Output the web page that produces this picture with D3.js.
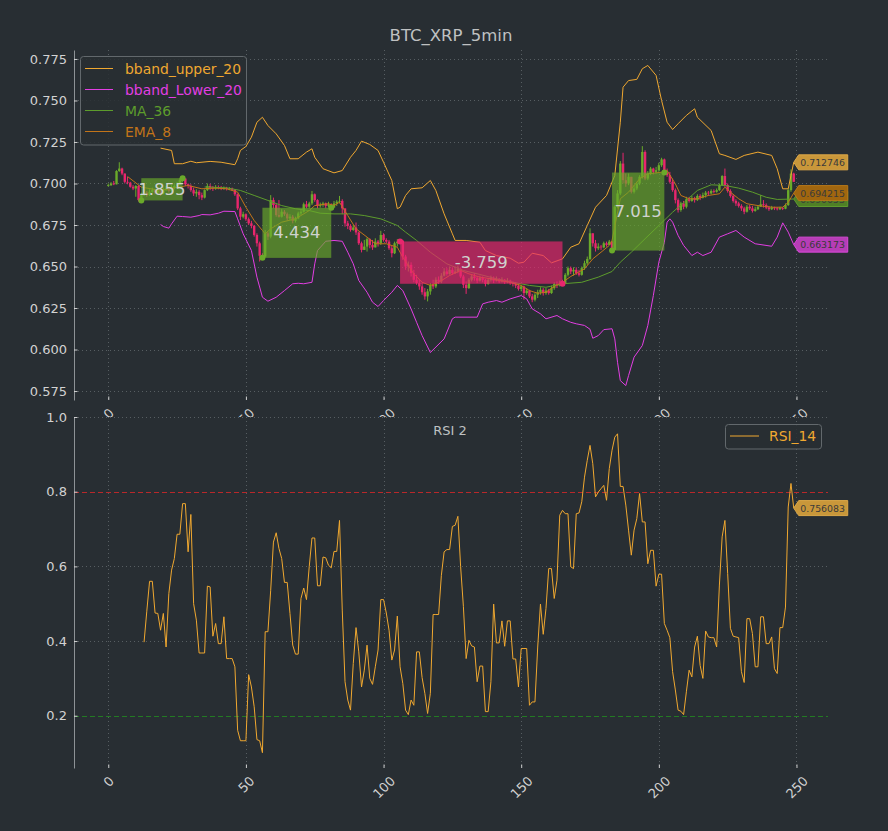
<!DOCTYPE html>
<html><head><meta charset="utf-8">
<script src="https://cdn.jsdelivr.net/npm/d3@7"></script>
<style>body{margin:0;background:#282e33;} svg{display:block;} text{font-family:"DejaVu Sans",sans-serif;}</style>
</head><body><svg id="c" width="888" height="831"></svg>
<script>
// ---------------- DATA ----------------
const title = "BTC_XRP_5min";
const subTitle = "RSI 2";
const xTicks = [0, 50, 100, 150, 200, 250];
const priceTicks = [0.575, 0.600, 0.625, 0.650, 0.675, 0.700, 0.725, 0.750, 0.775];
const rsiTicks = [0.2, 0.4, 0.6, 0.8, 1.0];
const rsiLevels = [0.8, 0.2];
const firstOpen = 0.6985;
const closes = [
0.6990,0.7000,0.6995,0.7075,0.7090,0.7060,0.7010,0.7005,0.6980,0.6970,
0.6985,0.6900,0.6935,0.6945,0.6930,0.6950,0.6960,0.6945,0.6955,0.6940,
0.6960,0.6970,0.6955,0.6975,0.6985,0.6995,0.7020,0.7030,0.6995,0.6985,
0.6960,0.6940,0.6950,0.6930,0.6915,0.6960,0.6985,0.6975,0.6970,0.6978,
0.6975,0.6970,0.6972,0.6968,0.6970,0.6962,0.6935,0.6850,0.6800,0.6815,
0.6785,0.6760,0.6745,0.6690,0.6640,0.6565,0.6560,0.6700,0.6680,0.6900,
0.6870,0.6810,0.6800,0.6830,0.6815,0.6790,0.6800,0.6775,0.6790,0.6820,
0.6830,0.6875,0.6860,0.6880,0.6935,0.6900,0.6865,0.6870,0.6880,0.6865,
0.6875,0.6855,0.6880,0.6890,0.6895,0.6850,0.6760,0.6745,0.6720,0.6735,
0.6705,0.6640,0.6600,0.6620,0.6665,0.6630,0.6615,0.6650,0.6640,0.6690,
0.6660,0.6650,0.6610,0.6580,0.6640,0.6650,0.6655,0.6560,0.6500,0.6510,
0.6460,0.6420,0.6400,0.6380,0.6345,0.6320,0.6350,0.6390,0.6380,0.6420,
0.6410,0.6445,0.6470,0.6455,0.6480,0.6460,0.6470,0.6485,0.6440,0.6390,
0.6370,0.6420,0.6440,0.6430,0.6415,0.6430,0.6420,0.6395,0.6420,0.6430,
0.6415,0.6425,0.6410,0.6420,0.6405,0.6415,0.6400,0.6395,0.6385,0.6365,
0.6380,0.6340,0.6355,0.6320,0.6300,0.6330,0.6345,0.6360,0.6340,0.6355,
0.6340,0.6370,0.6395,0.6385,0.6400,0.6395,0.6450,0.6490,0.6470,0.6480,
0.6460,0.6450,0.6490,0.6520,0.6545,0.6700,0.6640,0.6610,0.6620,0.6615,
0.6640,0.6630,0.6650,0.6600,0.6860,0.6940,0.7120,0.7020,0.7000,0.7040,
0.6950,0.6970,0.7000,0.7040,0.7190,0.7030,0.7060,0.7090,0.7070,0.7080,
0.7110,0.7145,0.7065,0.7050,0.7010,0.6960,0.6900,0.6840,0.6880,0.6860,
0.6905,0.6895,0.6910,0.6900,0.6925,0.6915,0.6930,0.6945,0.6940,0.6955,
0.6950,0.6960,0.6990,0.7045,0.6990,0.6955,0.6925,0.6895,0.6880,0.6865,
0.6850,0.6830,0.6860,0.6850,0.6835,0.6845,0.6860,0.6875,0.6870,0.6855,
0.6845,0.6855,0.6850,0.6845,0.6852,0.6848,0.6870,0.6960,0.7060,0.7010];
const highs = [
0.7000,0.7008,0.7015,0.7080,0.7128,0.7095,0.7060,0.7040,0.7010,0.6990,
0.6990,0.6990,0.6945,0.6960,0.6955,0.6965,0.6975,0.6965,0.6970,0.6960,
0.6975,0.6985,0.6980,0.6990,0.6995,0.7010,0.7030,0.7035,0.7030,0.7000,
0.6995,0.6975,0.6965,0.6960,0.6945,0.6965,0.7000,0.6998,0.6985,0.6990,
0.6988,0.6985,0.6982,0.6980,0.6978,0.6975,0.6965,0.6940,0.6860,0.6830,
0.6820,0.6795,0.6775,0.6750,0.6700,0.6650,0.6580,0.6720,0.6710,0.6930,
0.6915,0.6880,0.6900,0.6845,0.6840,0.6825,0.6815,0.6810,0.6800,0.6830,
0.6845,0.6885,0.6895,0.6890,0.6955,0.6940,0.6905,0.6885,0.6890,0.6885,
0.6890,0.6880,0.6895,0.6900,0.6925,0.6905,0.6830,0.6775,0.6755,0.6750,
0.6765,0.6710,0.6650,0.6660,0.6675,0.6670,0.6660,0.6670,0.6660,0.6715,
0.6700,0.6670,0.6660,0.6625,0.6650,0.6665,0.6660,0.6660,0.6570,0.6530,
0.6525,0.6480,0.6450,0.6420,0.6400,0.6370,0.6365,0.6400,0.6420,0.6435,
0.6440,0.6460,0.6490,0.6490,0.6500,0.6495,0.6500,0.6505,0.6495,0.6450,
0.6410,0.6430,0.6455,0.6460,0.6440,0.6445,0.6440,0.6425,0.6430,0.6445,
0.6440,0.6440,0.6430,0.6435,0.6425,0.6430,0.6420,0.6410,0.6405,0.6395,
0.6390,0.6385,0.6370,0.6360,0.6335,0.6340,0.6360,0.6375,0.6370,0.6370,
0.6365,0.6385,0.6405,0.6410,0.6415,0.6420,0.6460,0.6500,0.6500,0.6495,
0.6495,0.6480,0.6500,0.6535,0.6560,0.6730,0.6700,0.6660,0.6640,0.6630,
0.6650,0.6650,0.6660,0.6655,0.6870,0.6960,0.7135,0.7185,0.7060,0.7060,
0.7040,0.6990,0.7010,0.7050,0.7225,0.7200,0.7075,0.7100,0.7095,0.7100,
0.7125,0.7155,0.7150,0.7090,0.7070,0.7030,0.6970,0.6910,0.6890,0.6895,
0.6920,0.6920,0.6925,0.6920,0.6935,0.6935,0.6945,0.6955,0.6955,0.6965,
0.6965,0.6970,0.7000,0.7050,0.7090,0.7000,0.6965,0.6935,0.6905,0.6890,
0.6875,0.6860,0.6870,0.6870,0.6865,0.6860,0.6870,0.6930,0.6900,0.6880,
0.6865,0.6865,0.6860,0.6858,0.6860,0.6858,0.6880,0.6970,0.7085,0.7065];
const lows = [
0.6982,0.6985,0.6990,0.6995,0.7070,0.7050,0.7000,0.6995,0.6975,0.6960,
0.6920,0.6892,0.6898,0.6925,0.6920,0.6925,0.6945,0.6935,0.6940,0.6925,
0.6935,0.6955,0.6945,0.6950,0.6965,0.6980,0.6990,0.7010,0.6985,0.6970,
0.6950,0.6925,0.6920,0.6905,0.6900,0.6910,0.6955,0.6960,0.6955,0.6962,
0.6965,0.6960,0.6962,0.6958,0.6960,0.6955,0.6925,0.6840,0.6780,0.6790,
0.6775,0.6750,0.6730,0.6680,0.6620,0.6530,0.6540,0.6555,0.6660,0.6670,
0.6850,0.6800,0.6795,0.6795,0.6805,0.6775,0.6780,0.6760,0.6765,0.6785,
0.6810,0.6825,0.6850,0.6850,0.6870,0.6890,0.6850,0.6855,0.6860,0.6850,
0.6858,0.6845,0.6860,0.6865,0.6880,0.6815,0.6740,0.6725,0.6710,0.6715,
0.6690,0.6630,0.6585,0.6605,0.6590,0.6610,0.6600,0.6615,0.6620,0.6630,
0.6650,0.6640,0.6600,0.6555,0.6575,0.6620,0.6640,0.6540,0.6480,0.6470,
0.6440,0.6405,0.6390,0.6360,0.6330,0.6300,0.6290,0.6330,0.6365,0.6370,
0.6395,0.6400,0.6440,0.6445,0.6450,0.6450,0.6455,0.6460,0.6430,0.6370,
0.6335,0.6365,0.6410,0.6415,0.6400,0.6410,0.6405,0.6380,0.6390,0.6410,
0.6400,0.6410,0.6400,0.6405,0.6395,0.6400,0.6390,0.6380,0.6370,0.6355,
0.6350,0.6300,0.6330,0.6310,0.6285,0.6290,0.6310,0.6330,0.6325,0.6330,
0.6330,0.6335,0.6360,0.6370,0.6380,0.6385,0.6395,0.6440,0.6455,0.6445,
0.6450,0.6440,0.6445,0.6480,0.6510,0.6540,0.6620,0.6590,0.6600,0.6600,
0.6610,0.6620,0.6630,0.6590,0.6600,0.6850,0.6930,0.7000,0.6980,0.6990,
0.6940,0.6940,0.6960,0.6990,0.7030,0.7020,0.7020,0.7050,0.7055,0.7060,
0.7070,0.7100,0.7060,0.7040,0.7000,0.6950,0.6880,0.6825,0.6830,0.6845,
0.6850,0.6885,0.6890,0.6885,0.6895,0.6900,0.6910,0.6915,0.6925,0.6935,
0.6940,0.6945,0.6955,0.6985,0.6980,0.6945,0.6915,0.6885,0.6865,0.6855,
0.6835,0.6815,0.6825,0.6840,0.6825,0.6830,0.6840,0.6860,0.6855,0.6845,
0.6835,0.6840,0.6840,0.6838,0.6840,0.6840,0.6845,0.6865,0.6950,0.7020];

// indicator lines: [candle index, value]
const bbandUpper = [[19,0.7213],[23,0.7199],[24,0.7119],[27,0.7119],[30,0.7134],[32,0.7125],[37,0.7133],[41,0.7128],[46,0.7113],[47,0.7149],[48,0.7199],[50,0.7223],[52,0.7279],[54,0.7369],[56,0.7399],[58,0.7349],[61,0.7299],[64,0.7229],[66,0.7149],[69,0.7149],[72,0.7189],[74,0.7209],[75,0.7158],[78,0.7089],[82,0.7064],[85,0.7078],[88,0.7158],[90,0.7199],[92,0.7255],[95,0.7235],[98,0.7199],[100,0.7128],[103,0.7018],[105,0.6848],[106,0.6857],[108,0.6928],[110,0.6968],[114,0.6974],[117,0.7018],[119,0.6958],[122,0.6817],[125,0.6697],[126,0.6657],[130,0.6657],[135,0.6646],[137,0.6596],[141,0.6566],[146,0.6550],[149,0.6520],[151,0.6526],[154,0.6580],[158,0.6566],[161,0.6522],[165,0.6546],[168,0.6616],[171,0.6637],[174,0.6747],[177,0.6857],[181,0.6928],[184,0.7048],[186,0.7369],[187,0.7580],[189,0.7620],[192,0.7627],[194,0.7691],[196,0.7711],[199,0.7651],[201,0.7500],[203,0.7369],[205,0.7325],[207,0.7360],[210,0.7410],[213,0.7450],[214,0.7399],[219,0.7319],[222,0.7179],[224,0.7169],[228,0.7145],[231,0.7169],[236,0.7189],[241,0.7169],[243,0.7089],[245,0.6968],[247,0.6968],[248,0.7048],[249,0.712746]];
const bbandLower = [[19,0.6753],[20,0.6741],[22,0.6731],[23,0.6757],[25,0.6803],[27,0.6801],[30,0.6797],[33,0.6807],[34,0.6813],[37,0.6811],[40,0.6821],[42,0.6833],[46,0.6831],[47,0.6787],[49,0.6697],[52,0.6596],[54,0.6436],[56,0.6315],[58,0.6291],[61,0.6315],[64,0.6355],[67,0.6396],[69,0.6399],[71,0.6396],[74,0.6405],[75,0.6516],[76,0.6596],[79,0.6652],[82,0.6657],[85,0.6652],[87,0.6586],[89,0.6516],[91,0.6416],[94,0.6345],[96,0.6285],[98,0.6259],[100,0.6295],[103,0.6345],[105,0.6386],[107,0.6355],[110,0.6245],[112,0.6164],[114,0.6084],[117,0.5982],[122,0.6064],[125,0.6185],[126,0.6195],[134,0.6195],[136,0.6275],[138,0.6285],[141,0.6295],[143,0.6285],[146,0.6305],[150,0.6325],[152,0.6305],[154,0.6245],[157,0.6215],[159,0.6185],[163,0.6205],[165,0.6185],[168,0.6164],[170,0.6155],[173,0.6145],[175,0.6122],[176,0.6068],[178,0.6084],[180,0.6120],[183,0.6125],[184,0.6064],[185,0.5923],[186,0.5813],[188,0.5783],[189,0.5843],[191,0.5954],[194,0.6024],[196,0.6145],[198,0.6325],[200,0.6526],[202,0.6646],[203,0.6767],[204,0.6787],[205,0.6767],[207,0.6687],[209,0.6627],[212,0.6566],[214,0.6586],[216,0.6566],[219,0.6586],[222,0.6677],[225,0.6697],[228,0.6717],[231,0.6677],[235,0.6637],[241,0.6622],[243,0.6677],[245,0.6763],[247,0.6707],[249,0.663173]];
const ma36 = [[35,0.6979],[43,0.6974],[48,0.6958],[53,0.6928],[58,0.6898],[63,0.6867],[68,0.6848],[73,0.6837],[77,0.6821],[82,0.6817],[88,0.6817],[93,0.6807],[99,0.6787],[105,0.6747],[108,0.6707],[112,0.6657],[117,0.6586],[123,0.6516],[129,0.6476],[135,0.6452],[141,0.6426],[147,0.6405],[153,0.6386],[159,0.6375],[165,0.6396],[172,0.6405],[178,0.6436],[183,0.6470],[186,0.6526],[190,0.6586],[195,0.6667],[200,0.6747],[205,0.6827],[210,0.6898],[214,0.6958],[219,0.6992],[224,0.6988],[229,0.6972],[234,0.6948],[239,0.6917],[243,0.6904],[249,0.690653]];
const ema8 = [[7,0.7042],[12,0.6978],[19,0.6958],[24,0.6974],[29,0.6988],[34,0.6968],[39,0.6972],[43,0.6968],[47,0.6948],[50,0.6857],[53,0.6777],[56,0.6717],[57,0.6697],[59,0.6727],[63,0.6767],[68,0.6787],[73,0.6837],[75,0.6867],[80,0.6878],[82,0.6867],[84,0.6887],[87,0.6807],[90,0.6727],[94,0.6677],[97,0.6637],[101,0.6637],[105,0.6616],[107,0.6556],[111,0.6456],[114,0.6405],[117,0.6386],[120,0.6405],[124,0.6446],[128,0.6476],[131,0.6456],[135,0.6436],[139,0.6426],[142,0.6416],[146,0.6405],[150,0.6386],[153,0.6355],[156,0.6339],[159,0.6345],[162,0.6380],[165,0.6405],[168,0.6440],[173,0.6486],[176,0.6546],[179,0.6586],[182,0.6627],[183,0.6657],[186,0.6908],[189,0.6948],[193,0.7028],[196,0.7058],[201,0.7068],[203,0.7078],[206,0.6998],[208,0.6928],[211,0.6908],[214,0.6908],[218,0.6928],[222,0.6938],[224,0.6978],[226,0.6948],[229,0.6908],[232,0.6878],[236,0.6867],[241,0.6857],[245,0.6857],[247,0.6887],[249,0.694215]];

const rsiStart = 13;
const rsi14 = [
0.397,0.48,0.560,0.560,0.475,0.474,0.429,0.474,0.384,0.527,
0.590,0.621,0.686,0.686,0.768,0.768,0.639,0.739,0.500,0.456,
0.368,0.368,0.368,0.547,0.545,0.413,0.447,0.393,0.393,0.465,
0.353,0.353,0.353,0.331,0.161,0.133,0.133,0.133,0.310,0.277,
0.224,0.136,0.133,0.101,0.425,0.425,0.536,0.665,0.690,0.648,
0.621,0.557,0.557,0.474,0.389,0.365,0.365,0.514,0.542,0.511,
0.599,0.676,0.676,0.548,0.548,0.625,0.623,0.603,0.596,0.640,
0.640,0.723,0.483,0.291,0.242,0.215,0.340,0.436,0.371,0.277,
0.322,0.389,0.300,0.284,0.331,0.376,0.511,0.511,0.475,0.429,
0.349,0.376,0.467,0.331,0.286,0.215,0.203,0.242,0.228,0.371,
0.371,0.302,0.260,0.206,0.260,0.471,0.471,0.471,0.576,0.639,
0.645,0.645,0.707,0.710,0.734,0.599,0.493,0.353,0.402,0.387,
0.384,0.291,0.333,0.333,0.211,0.211,0.291,0.499,0.395,0.395,
0.454,0.386,0.454,0.454,0.352,0.352,0.277,0.380,0.380,0.380,
0.228,0.237,0.237,0.384,0.499,0.418,0.487,0.594,0.594,0.514,
0.563,0.737,0.750,0.741,0.741,0.599,0.594,0.741,0.743,0.773,
0.839,0.884,0.924,0.875,0.786,0.799,0.808,0.817,0.777,0.862,
0.911,0.946,0.955,0.814,0.814,0.764,0.697,0.630,0.697,0.728,
0.795,0.719,0.719,0.607,0.643,0.643,0.547,0.579,0.579,0.447,
0.429,0.409,0.318,0.269,0.215,0.212,0.203,0.264,0.322,0.304,
0.384,0.413,0.335,0.300,0.427,0.411,0.409,0.409,0.384,0.550,
0.679,0.723,0.581,0.434,0.413,0.411,0.409,0.318,0.289,0.460,
0.460,0.420,0.331,0.331,0.465,0.465,0.393,0.393,0.411,0.326,
0.313,0.436,0.436,0.491,0.759,0.822,0.756083];

const tradeEntryIdx = [12, 56, 106, 183];
const tradeEntryPrice = [0.6898, 0.6552, 0.6651, 0.6596];
const tradeExitIdx = [27, 81, 165, 202];
const tradeExitPrice = [0.7032, 0.6854, 0.6396, 0.7066];
const tradeProfit = ["1.855", "4.434", "-3.759", "7.015"];

const legendNames = ["bband_upper_20", "bband_Lower_20", "MA_36", "EMA_8"];
const rsiName = "RSI_14";

// ---------------- STYLE ----------------
const BG = "#282e33", GRID = "#5c6468", TXT = "#d2d2d2";
const UP = "#6aaa2a", DN = "#e8266d";
const C_UPPER = "#f0a830", C_LOWER = "#e33ee3", C_MA = "#5d9c2c", C_EMA = "#c27419", C_RSI = "#f0a830";

const svg = d3.select("#c");
svg.append("rect").attr("width", 888).attr("height", 831).attr("fill", BG);
const L = 74, R = 828, T1 = 50, B1 = 400, T2 = 417, B2 = 768;
const x = d3.scaleLinear().domain([-12.45, 261.45]).range([L, R]);
const yT = d3.scaleLinear().domain([0.5696, 0.7804]).range([B1, T1]);
const yB = d3.scaleLinear().domain([0.06, 1.0]).range([B2, T2]);
const crisp = v => Math.round(v) + 0.5;

function grid(g, yScale, yTicks, y0, y1) {
  g.selectAll(null).data(yTicks).join("line")
    .attr("x1", L).attr("x2", R).attr("y1", d => crisp(yScale(d))).attr("y2", d => crisp(yScale(d)))
    .attr("stroke", GRID).attr("stroke-width", 0.9).attr("stroke-dasharray", "1,3");
  g.selectAll(null).data(xTicks).join("line")
    .attr("x1", d => crisp(x(d))).attr("x2", d => crisp(x(d))).attr("y1", y0).attr("y2", y1)
    .attr("stroke", GRID).attr("stroke-width", 0.9).attr("stroke-dasharray", "1,3");
}
function styleAxis(g) {
  g.attr("font-family", "DejaVu Sans").attr("font-size", 13);
  g.selectAll(".tick line").attr("stroke", "#e0e0e0").attr("stroke-width", 0.9);
  g.selectAll(".tick text").attr("fill", TXT);
}
function rotateLabels(g) {
  g.selectAll(".tick text").each(function () {
    const w = this.getComputedTextLength();
    const off = 5.3 + (w + 15) * 0.3536;
    d3.select(this).attr("y", 0).attr("dy", null)
      .attr("dominant-baseline", "central").attr("text-anchor", "middle")
      .attr("transform", `translate(0,${off}) rotate(-45)`);
  });
}

// ---------- top panel ----------
const gTop = svg.append("g");
grid(gTop.append("g"), yT, priceTicks, T1, B1);

const candles = closes.map((c, i) => ({
  i, c, o: i === 0 ? firstOpen : closes[i - 1], h: highs[i], l: lows[i]
}));
const cg = gTop.append("g");
cg.selectAll("line").data(candles).join("line")
  .attr("x1", d => x(d.i)).attr("x2", d => x(d.i))
  .attr("y1", d => yT(Math.max(d.h, d.o, d.c))).attr("y2", d => yT(Math.min(d.l, d.o, d.c)))
  .attr("stroke", d => d.c >= d.o ? UP : DN).attr("stroke-width", 1);
cg.selectAll("rect").data(candles).join("rect")
  .attr("x", d => x(d.i) - 1.2).attr("width", 2.4)
  .attr("y", d => yT(Math.max(d.o, d.c)))
  .attr("height", d => Math.max(0.8, Math.abs(yT(d.o) - yT(d.c))))
  .attr("fill", d => d.c >= d.o ? UP : DN);

const line = d3.line().x(d => x(d[0])).y(d => yT(d[1]));
[[bbandUpper, C_UPPER], [bbandLower, C_LOWER], [ma36, C_MA], [ema8, C_EMA]].forEach(([s, col]) => {
  gTop.append("path").datum(s).attr("d", line).attr("fill", "none").attr("stroke", col).attr("stroke-width", 1);
});

// trades
tradeEntryIdx.forEach((ei, k) => {
  const xi = tradeExitIdx[k], ep = tradeEntryPrice[k], xp = tradeExitPrice[k];
  const win = +tradeProfit[k] > 0, col = win ? UP : DN;
  const x0 = x(ei), x1 = x(xi), y0 = yT(Math.max(ep, xp)), y1 = yT(Math.min(ep, xp));
  gTop.append("rect").attr("x", x0).attr("y", y0).attr("width", x1 - x0).attr("height", y1 - y0)
    .attr("fill", col).attr("fill-opacity", win ? 0.66 : 0.68);
  gTop.append("circle").attr("cx", x0).attr("cy", yT(ep)).attr("r", 3).attr("fill", col);
  gTop.append("circle").attr("cx", x1).attr("cy", yT(xp)).attr("r", 3).attr("fill", col);
  gTop.append("text").attr("x", (x0 + x1) / 2).attr("y", (y0 + y1) / 2)
    .attr("text-anchor", "middle").attr("dominant-baseline", "central")
    .attr("font-size", 16.5).attr("fill", "#cfd2cf").text(tradeProfit[k]);
});

// axes top
const ayT = gTop.append("g").attr("transform", `translate(${L},0)`)
  .call(d3.axisLeft(yT).tickValues(priceTicks).tickFormat(d3.format(".3f")).tickSizeInner(-3.5).tickSizeOuter(0).tickPadding(7));
styleAxis(ayT);
ayT.select(".domain").attr("stroke", "#8d9296");
const axT = gTop.append("g").attr("transform", `translate(0,${B1})`)
  .call(d3.axisBottom(x).tickValues(xTicks).tickFormat(d3.format("d")).tickSizeInner(-3.5).tickSizeOuter(0));
styleAxis(axT);
axT.select(".domain").remove();
rotateLabels(axT);

// title
svg.append("text").attr("x", 451).attr("y", 41).attr("text-anchor", "middle")
  .attr("font-size", 16.5).attr("fill", "#bfc1c2").text(title);

// legend top
const lg = svg.append("g");
lg.append("rect").attr("x", 80.5).attr("y", 56.5).attr("width", 166).attr("height", 88.5).attr("rx", 3)
  .attr("fill", BG).attr("fill-opacity", 0.85).attr("stroke", "#62686c").attr("stroke-width", 1);
const legCols = [C_UPPER, C_LOWER, C_MA, C_EMA];
legendNames.forEach((n, k) => {
  const yy = 68.5 + k * 21;
  lg.append("line").attr("x1", 85).attr("x2", 113).attr("y1", yy).attr("y2", yy).attr("stroke", legCols[k]).attr("stroke-width", 1);
  lg.append("text").attr("x", 125).attr("y", yy).attr("dominant-baseline", "central")
    .attr("font-size", 13.9).attr("fill", legCols[k]).text(n);
});

// value tags
function tag(val, yScale, fill, stroke) {
  const x0 = x(249), yy = yScale(val);
  const pts = [[x0, yy], [x0 + 5, yy - 7.5], [x0 + 54, yy - 7.5], [x0 + 54, yy + 7.5], [x0 + 5, yy + 7.5]];
  svg.append("polygon").attr("points", pts.map(p => p.join(",")).join(" "))
    .attr("fill", fill).attr("stroke", stroke).attr("stroke-width", 1).attr("stroke-linejoin", "round");
  svg.append("text").attr("x", x0 + 6.5).attr("y", yy).attr("dominant-baseline", "central")
    .attr("font-size", 9.4).attr("fill", "#3a3a3a").text(val.toFixed(6));
}
tag(bbandUpper[bbandUpper.length - 1][1], yT, "#c9973a", "#dca848");
tag(bbandLower[bbandLower.length - 1][1], yT, "#b73db7", "#d848d8");
tag(ma36[ma36.length - 1][1], yT, "#4f7f26", "#5e9a2c");
tag(ema8[ema8.length - 1][1], yT, "#a0660f", "#b87818");

// ---------- bottom panel ----------
const gBot = svg.append("g");
gBot.append("rect").attr("x", L).attr("y", T2).attr("width", R - L).attr("height", B2 - T2).attr("fill", BG);
grid(gBot.append("g"), yB, rsiTicks, T2, B2);
gBot.selectAll(null).data(rsiLevels).join("line")
  .attr("x1", L).attr("x2", R).attr("y1", d => crisp(yB(d))).attr("y2", d => crisp(yB(d)))
  .attr("stroke", d => d > 0.5 ? "#b8282a" : "#237a23").attr("stroke-width", 1)
  .attr("stroke-dasharray", "5,3");
const rsiPts = rsi14.map((v, k) => [rsiStart + k, v]);
gBot.append("path").datum(rsiPts)
  .attr("d", d3.line().x(d => x(d[0])).y(d => yB(d[1])))
  .attr("fill", "none").attr("stroke", C_RSI).attr("stroke-width", 1);

const ayB = gBot.append("g").attr("transform", `translate(${L},0)`)
  .call(d3.axisLeft(yB).tickValues(rsiTicks).tickFormat(d3.format(".1f")).tickSizeInner(-3.5).tickSizeOuter(0).tickPadding(7));
styleAxis(ayB);
ayB.select(".domain").attr("stroke", "#8d9296");
const axB = gBot.append("g").attr("transform", `translate(0,${B2})`)
  .call(d3.axisBottom(x).tickValues(xTicks).tickFormat(d3.format("d")).tickSizeInner(-3.5).tickSizeOuter(0));
styleAxis(axB);
axB.select(".domain").remove();
rotateLabels(axB);

gBot.append("text").attr("x", 450).attr("y", 430).attr("text-anchor", "middle").attr("dominant-baseline", "central")
  .attr("font-size", 13).attr("fill", "#bfc1c2").text(subTitle);

const lg2 = svg.append("g");
lg2.append("rect").attr("x", 725.5).attr("y", 424.5).attr("width", 96).attr("height", 24.5).attr("rx", 3)
  .attr("fill", BG).attr("fill-opacity", 0.85).attr("stroke", "#62686c").attr("stroke-width", 1);
lg2.append("line").attr("x1", 730).attr("x2", 759).attr("y1", 436).attr("y2", 436).attr("stroke", C_RSI).attr("stroke-width", 1);
lg2.append("text").attr("x", 769).attr("y", 436).attr("dominant-baseline", "central")
  .attr("font-size", 13.9).attr("fill", C_RSI).text(rsiName);

tag(rsi14[rsi14.length - 1], yB, "#c9973a", "#dca848");
</script></body></html>
